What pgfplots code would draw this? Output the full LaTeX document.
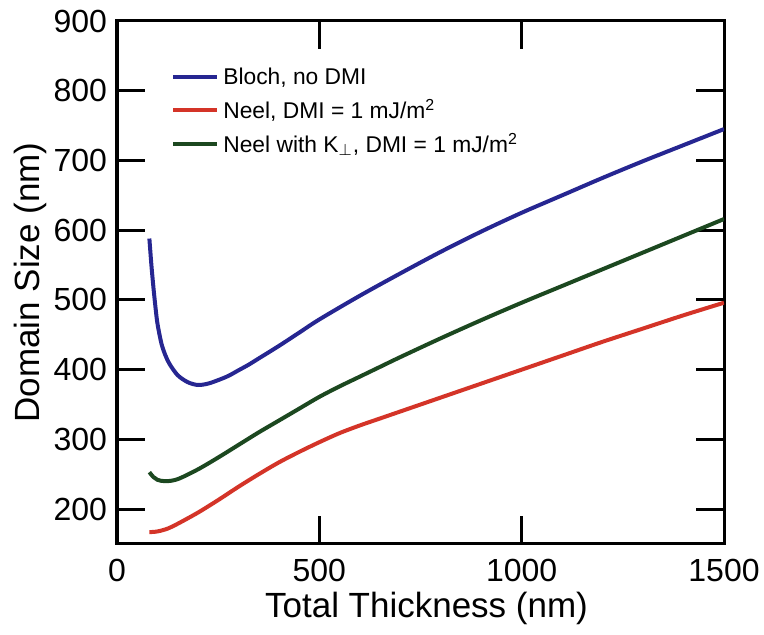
\documentclass[border=0pt]{standalone}
\usepackage{fontspec}
\setmainfont{Liberation Sans}
\usepackage{pgfplots}
\pgfplotsset{compat=1.18}
\definecolor{cblue}{RGB}{38,38,145}
\definecolor{cred}{RGB}{212,52,40}
\definecolor{cgreen}{RGB}{28,72,32}
\begin{document}
\begin{tikzpicture}
\begin{axis}[
  scale only axis,
  width=303.5pt, height=261.5pt,
  xmin=0, xmax=1500, ymin=150, ymax=900,
  xtick={0,500,1000,1500},
  ytick={200,300,400,500,600,700,800,900},
  tick align=inside,
  major tick length=14pt,
  tick style={line width=1.5pt, black},
  axis line style={line width=1.5pt},
  /pgf/number format/1000 sep={},
  /pgf/number format/assume math mode=true,
  ticklabel style={font=\fontsize{16}{19}\selectfont},
  xticklabel style={yshift=-4pt},
  yticklabel style={xshift=-1.5pt},
  label style={font=\fontsize{17.5}{21}\selectfont},
  xlabel={Total Thickness (nm)},
  ylabel={Domain Size (nm)},
  xlabel style={at={(axis description cs:0.5,0)}, anchor=north, inner sep=0pt, yshift=-24pt, xshift=3pt},
  ylabel style={at={(axis description cs:0,0.5)}, anchor=south, inner sep=0pt, yshift=35pt},
  legend style={draw=none, fill=none, at={(0.079,0.927)}, anchor=north west,
    font=\fontsize{11.4}{13}\selectfont, row sep=2pt},
  legend cell align=left,
  legend image code/.code={\draw[#1, line width=2pt] (0cm,0cm) -- (22pt,0cm);},
]
\addplot[cblue, line width=2pt, smooth] coordinates {
(80,588) (85,550) (90,518) (95,490) (100,466) (110,437) (120,420) (130,408)
(150,392) (175,382) (200,378) (225,380) (250,385) (275,391) (300,399) (325,407)
(350,416) (400,434) (450,453) (500,472) (600,506) (700,538) (800,569) (900,598)
(1000,625) (1100,650) (1200,675) (1300,699) (1400,722) (1500,745)};
\addlegendentry{Bloch, no DMI}
\addplot[cred, line width=2pt, smooth] coordinates {
(80,167) (100,168) (125,172) (150,179) (200,195) (250,213) (300,232) (350,250)
(400,267) (450,282) (500,296) (550,309) (600,320) (650,330) (700,340) (800,360)
(900,380) (1000,400) (1100,420) (1200,440) (1300,459) (1400,478) (1500,496)};
\addlegendentry{Neel, DMI = 1 mJ/m\textsuperscript{2}}
\addplot[cgreen, line width=2pt, smooth] coordinates {
(80,253) (90,246) (100,242) (120,240) (150,243) (200,257) (250,274) (300,292)
(350,310) (400,327) (450,344) (500,361) (550,376) (600,390) (650,404) (700,418)
(800,445) (900,471) (1000,496) (1100,520) (1200,544) (1300,568) (1400,592) (1500,616)};
\addlegendentry{Neel with K$_{\perp}$, DMI = 1 mJ/m\textsuperscript{2}}
\end{axis}
\pgfresetboundingbox
\path (current axis.south west) ++(-58.5pt,-45.5pt) rectangle ++(382pt,317.5pt);
\end{tikzpicture}
\end{document}
